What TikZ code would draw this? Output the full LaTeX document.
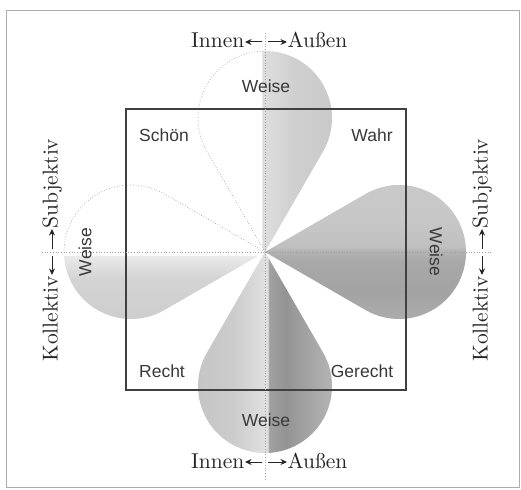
\documentclass[tikz,border=0pt]{standalone}
\usepackage{fontspec}
\newfontfamily\lsans{Liberation Sans}
\newfontfamily\lmten{lmroman10-regular.otf}
\usetikzlibrary{arrows.meta}
\definecolor{tA}{gray}{0.87}
\definecolor{tB}{gray}{0.81}
\definecolor{tC}{gray}{0.79}
\definecolor{bA}{gray}{0.77}
\definecolor{bB}{gray}{0.80}
\definecolor{bC}{gray}{0.87}
\definecolor{bD}{gray}{0.63}
\definecolor{bE}{gray}{0.58}
\definecolor{bF}{gray}{0.66}
\definecolor{bG}{gray}{0.73}
\definecolor{lA}{gray}{0.80}
\definecolor{lB}{gray}{0.83}
\definecolor{lC}{gray}{0.92}
\definecolor{rA}{gray}{0.68}
\definecolor{rB}{gray}{0.64}
\definecolor{rC}{gray}{0.66}
\definecolor{rD}{gray}{0.71}
\definecolor{rE}{gray}{0.75}
\definecolor{rF}{gray}{0.78}
\definecolor{rG}{gray}{0.79}
\definecolor{txt}{gray}{0.22}
\pgfdeclarehorizontalshading{topsh}{100bp}{color(0bp)=(white); color(49.9bp)=(white); color(50.1bp)=(tA); color(62bp)=(tB); color(75bp)=(tC); color(100bp)=(tC)}
\pgfdeclarehorizontalshading{botsh}{100bp}{color(0bp)=(bA); color(25bp)=(bA); color(38bp)=(bB); color(48bp)=(bC); color(49.8bp)=(bC); color(50.3bp)=(bD); color(56bp)=(bE); color(66bp)=(bF); color(75bp)=(bG); color(100bp)=(bG)}
\pgfdeclareverticalshading{leftsh}{100bp}{color(0bp)=(lA); color(25bp)=(lA); color(42bp)=(lB); color(49.8bp)=(lC); color(50.1bp)=(white); color(100bp)=(white)}
\pgfdeclareverticalshading{rightsh}{100bp}{color(0bp)=(rA); color(25bp)=(rA); color(35bp)=(rB); color(46bp)=(rC); color(49.6bp)=(rD); color(50.4bp)=(rE); color(60bp)=(rF); color(75bp)=(rG); color(100bp)=(rG)}
\tikzset{
  x=1pt, y=1pt,
  petaledge/.style={gray!70, dotted, line width=0.7pt},
  axisdot/.style={gray!75, dotted, line width=0.7pt},
  quad/.style={black!75, line width=1.2pt},
  sanslbl/.style={font=\lsans\fontsize{17.5}{18}\selectfont, text=txt, inner sep=0pt},
  seriflbl/.style={font=\lmten\fontsize{21.5}{22}\selectfont, text=black!85, inner sep=0.5pt},
  arr/.style={-{Stealth[length=6.5pt,width=6pt]}, line width=1pt, black!85},
}
\begin{document}
\begin{tikzpicture}
\useasboundingbox (0,0) rectangle (521,-489);
\draw[gray!65, line width=1.8pt] (6.5,-10.5) rectangle (519.5,-487.5);
\coordinate (O) at (265,-252);
% petals
\shade[shading=topsh] (O) -- ++(120:116.05) arc[start angle=210, end angle=-30, radius=67] -- cycle;
\shade[shading=rightsh] (O) -- ++(30:116.05) arc[start angle=120, end angle=-120, radius=67] -- cycle;
\shade[shading=botsh] (O) -- ++(300:116.05) arc[start angle=390, end angle=150, radius=67] -- cycle;
\shade[shading=leftsh] (O) -- ++(210:116.05) arc[start angle=300, end angle=60, radius=67] -- cycle;
\draw[petaledge] (O) -- ++(120:116.05) arc[start angle=210, end angle=90, radius=67];
\draw[petaledge] (O) -- ++(150:116.05) arc[start angle=60, end angle=180, radius=67];
% square
\draw[quad] (126,-109) rectangle (406,-390);
% axes
\coordinate (vt) at (265,-33);
\coordinate (vb) at (265,-481);
\coordinate (hl) at (42,-252);
\coordinate (hr) at (492,-252);
\draw[axisdot] (vt) -- (vb);
\draw[axisdot] (hl) -- (hr);
% corner labels
\node[sanslbl] (schoen) at (164,-135) {Schön};
\node[sanslbl] (wahr) at (372,-135) {Wahr};
\node[sanslbl] (recht) at (162,-371) {Recht};
\node[sanslbl] (gerecht) at (362,-371) {Gerecht};
\node[sanslbl] (wtop) at (266,-86) {Weise};
\node[sanslbl] (wbot) at (266,-420) {Weise};
\node[sanslbl, rotate=90] (wleft) at (85,-252) {Weise};
\node[sanslbl, rotate=-90] (wright) at (436,-252) {Weise};
% top axis label
\node[seriflbl, anchor=base east] (innenT) at (245,-48) {Innen};
\node[seriflbl, anchor=base west] (aussenT) at (287,-48) {Außen};
\coordinate (ta1) at (262,-42);
\coordinate (ta2) at (268,-42);
\draw[arr] (ta1) -- (innenT.east |- ta1);
\draw[arr] (ta2) -- (aussenT.west |- ta2);
% bottom axis label
\node[seriflbl, anchor=base east] (innenB) at (245,-468) {Innen};
\node[seriflbl, anchor=base west] (aussenB) at (287,-468) {Außen};
\coordinate (ba1) at (262,-462);
\coordinate (ba2) at (268,-462);
\draw[arr] (ba1) -- (innenB.east |- ba1);
\draw[arr] (ba2) -- (aussenB.west |- ba2);
% left axis label
\node[seriflbl, rotate=90, anchor=base east] (kolL) at (57.5,-275) {Kollektiv};
\node[seriflbl, rotate=90, anchor=base west] (subL) at (57.5,-229) {Subjektiv};
\coordinate (la1) at (52,-249);
\coordinate (la2) at (52,-256);
\draw[arr] (la1) -- (la1 |- subL.west);
\draw[arr] (la2) -- (la2 |- kolL.east);
% right axis label
\node[seriflbl, rotate=90, anchor=base east] (kolR) at (487.5,-275) {Kollektiv};
\node[seriflbl, rotate=90, anchor=base west] (subR) at (487.5,-229) {Subjektiv};
\coordinate (ra1) at (482,-249);
\coordinate (ra2) at (482,-256);
\draw[arr] (ra1) -- (ra1 |- subR.west);
\draw[arr] (ra2) -- (ra2 |- kolR.east);
\end{tikzpicture}
\end{document}
